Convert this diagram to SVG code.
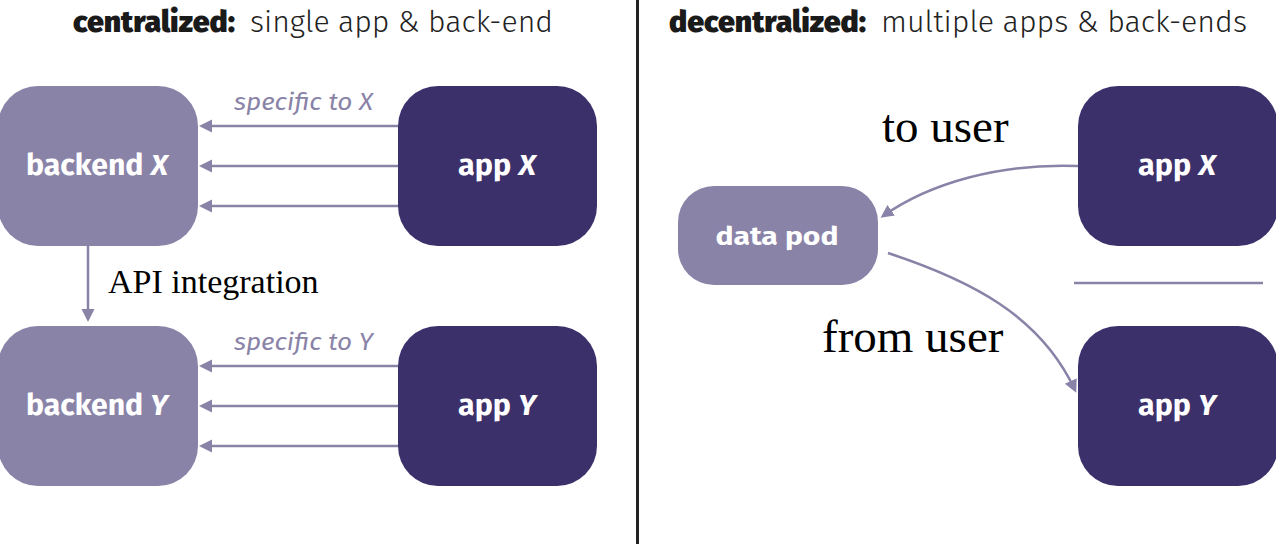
<svg xmlns="http://www.w3.org/2000/svg" width="1276" height="544" viewBox="0 0 1276 544">
  <defs>
    <marker id="ah" markerUnits="userSpaceOnUse" markerWidth="14" markerHeight="14" refX="10" refY="6.5" orient="auto">
      <path d="M0,0 L13,6.5 L0,13 Z" fill="#8a83a8"/>
    </marker>
    <style>
      .light { fill: #8a83a8; }
      .dark { fill: #3c306b; }
      .lbl { font-family: "Fira Sans", "Noto Sans", "Open Sans", sans-serif; font-weight: 700; fill: #ffffff; text-anchor: middle; }
      .hdrb { font-family: "Fira Sans", "Noto Sans", sans-serif; font-weight: 900; fill: #1a1a1a; font-size: 30px; }
      .hdrl { font-family: "Fira Sans", "Noto Sans", sans-serif; font-weight: 300; fill: #222222; font-size: 30px; }
      .spec { font-family: "Fira Sans", "Noto Sans", sans-serif; font-style: italic; font-weight: 400; fill: #8a83a8; font-size: 23px; }
      .serif { font-family: "Liberation Serif", "Times New Roman", serif; fill: #000000; }
      .conn { stroke: #8a83a8; stroke-width: 2.5; fill: none; marker-end: url(#ah); }
    </style>
  </defs>
  <rect width="1276" height="544" fill="#ffffff"/>

  <!-- divider -->
  <line x1="637.5" y1="0" x2="637.5" y2="544" stroke="#222222" stroke-width="3"/>

  <!-- headers -->
  <text class="hdrb" x="73" y="32" textLength="162" lengthAdjust="spacingAndGlyphs">centralized:</text>
  <text class="hdrl" x="250" y="32" textLength="303" lengthAdjust="spacingAndGlyphs">single app &amp; back-end</text>
  <text class="hdrb" x="669" y="32" textLength="197" lengthAdjust="spacingAndGlyphs">decentralized:</text>
  <text class="hdrl" x="881" y="32" textLength="366" lengthAdjust="spacingAndGlyphs">multiple apps &amp; back-ends</text>

  <!-- nodes -->
  <g id="backendX">
    <rect class="light" x="-2" y="86" width="200" height="160" rx="40"/>
    <text class="lbl" x="97" y="175" font-size="29" textLength="142" lengthAdjust="spacingAndGlyphs">backend <tspan font-style="italic">X</tspan></text>
  </g>
  <g id="appX">
    <rect class="dark" x="398" y="86" width="199" height="160" rx="40"/>
    <text class="lbl" x="497" y="175" font-size="29" textLength="78" lengthAdjust="spacingAndGlyphs">app <tspan font-style="italic">X</tspan></text>
  </g>
  <g id="backendY">
    <rect class="light" x="-2" y="326" width="200" height="160" rx="40"/>
    <text class="lbl" x="97" y="415" font-size="29" textLength="142" lengthAdjust="spacingAndGlyphs">backend <tspan font-style="italic">Y</tspan></text>
  </g>
  <g id="appY">
    <rect class="dark" x="398" y="326" width="199" height="160" rx="40"/>
    <text class="lbl" x="497" y="415" font-size="29" textLength="78" lengthAdjust="spacingAndGlyphs">app <tspan font-style="italic">Y</tspan></text>
  </g>
  <g id="dataPod">
    <rect class="light" x="678" y="186" width="200" height="99" rx="36"/>
    <text class="lbl" x="777" y="245" font-size="26" textLength="123" lengthAdjust="spacingAndGlyphs">data pod</text>
  </g>
  <g id="appX2">
    <rect class="dark" x="1078" y="86" width="200" height="160" rx="40"/>
    <text class="lbl" x="1177" y="175" font-size="29" textLength="78" lengthAdjust="spacingAndGlyphs">app <tspan font-style="italic">X</tspan></text>
  </g>
  <g id="appY2">
    <rect class="dark" x="1078" y="326" width="200" height="160" rx="40"/>
    <text class="lbl" x="1177" y="415" font-size="29" textLength="78" lengthAdjust="spacingAndGlyphs">app <tspan font-style="italic">Y</tspan></text>
  </g>

  <!-- separator -->
  <line x1="1074" y1="283" x2="1263" y2="283" stroke="#8a83a8" stroke-width="2.5"/>

  <!-- connectors -->
  <g id="connectors">
    <line class="conn" x1="398" y1="126" x2="202" y2="126"/>
    <line class="conn" x1="398" y1="166" x2="202" y2="166"/>
    <line class="conn" x1="398" y1="206" x2="202" y2="206"/>
    <line class="conn" x1="398" y1="366" x2="202" y2="366"/>
    <line class="conn" x1="398" y1="406" x2="202" y2="406"/>
    <line class="conn" x1="398" y1="446" x2="202" y2="446"/>
    <line class="conn" x1="88" y1="246" x2="88" y2="319"/>
    <path class="conn" d="M1078,166 C1000,163 930,183 883,216"/>
    <path class="conn" d="M888,253 C970,280 1040,315 1075,390"/>
  </g>

  <!-- labels -->
  <text class="spec" x="234" y="110" textLength="139" lengthAdjust="spacingAndGlyphs">specific to X</text>
  <text class="spec" x="234" y="350" textLength="139" lengthAdjust="spacingAndGlyphs">specific to Y</text>
  <text class="serif" x="108" y="293" font-size="34">API integration</text>
  <text class="serif" x="882" y="142" font-size="47">to user</text>
  <text class="serif" x="822" y="352" font-size="47">from user</text>
</svg>
